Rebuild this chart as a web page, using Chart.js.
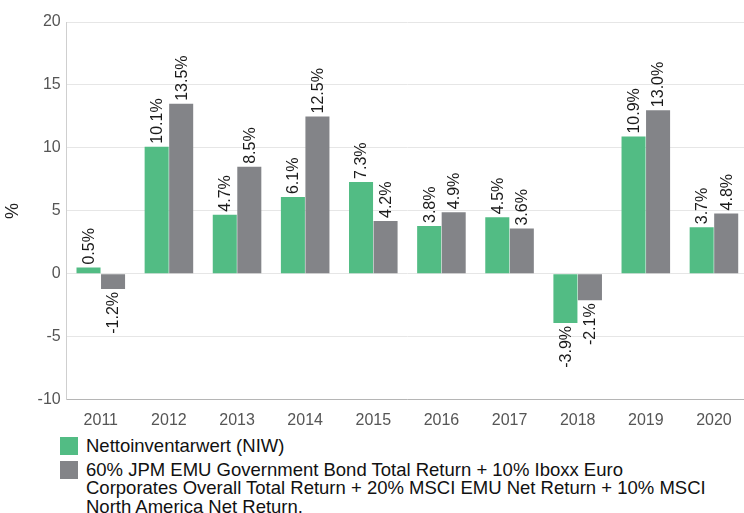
<!DOCTYPE html>
<html>
<head>
<meta charset="utf-8">
<script src="https://cdn.jsdelivr.net/npm/chart.js@4"></script>
<style>
  body { margin: 0; background: #fff; font-family: "Liberation Sans", Arial, sans-serif; overflow: hidden; }
  #wrap { position: relative; width: 748px; height: 433px; }
  #legend { position: absolute; left: 60px; top: 437px; width: 680px; }
  .item { display: flex; align-items: flex-start; margin-bottom: 5px; }
  .box { width: 18px; height: 18px; flex: none; margin-right: 8px; }
  .txt { font-size: 18.5px; line-height: 18.5px; color: #111; white-space: pre-line; }
</style>
</head>
<body>
<div id="wrap"><canvas id="chartNiw"></canvas></div>
<div id="legend"></div>
<script>
var years = ['2011', '2012', '2013', '2014', '2015', '2016', '2017', '2018', '2019', '2020'];
var niwValues = [0.5, 10.1, 4.7, 6.1, 7.3, 3.8, 4.5, -3.9, 10.9, 3.7];
var benchValues = [-1.2, 13.5, 8.5, 12.5, 4.2, 4.9, 3.6, -2.1, 13.0, 4.8];
var seriesNames = [
    'Nettoinventarwert (NIW)',
    '60% JPM EMU Government Bond Total Return + 10% Iboxx Euro\nCorporates Overall Total Return + 20% MSCI EMU Net Return + 10% MSCI\nNorth America Net Return.'
];
var myColors = ['#52bc84', '#838488'];

function fmt(value) {
    return value.toFixed(1) + '%';
}

// rotated value labels above / below each bar
var valueLabels = {
    id: 'valueLabels',
    afterDatasetsDraw: function (chart) {
        var ctx = chart.ctx;
        ctx.save();
        ctx.font = '16px "Liberation Sans", Arial, sans-serif';
        ctx.fillStyle = '#1a1a1a';
        ctx.textBaseline = 'middle';
        chart.data.datasets.forEach(function (ds, i) {
            var meta = chart.getDatasetMeta(i);
            meta.data.forEach(function (bar, j) {
                var v = ds.data[j];
                ctx.save();
                if (v >= 0) {
                    ctx.translate(bar.x, bar.y - 3);
                    ctx.rotate(-Math.PI / 2);
                    ctx.textAlign = 'left';
                } else {
                    ctx.translate(bar.x, bar.y + 3);
                    ctx.rotate(-Math.PI / 2);
                    ctx.textAlign = 'right';
                }
                ctx.fillText(fmt(v), 0, 1);
                ctx.restore();
            });
        });
        ctx.restore();
    }
};

var data = {
    labels: years,
    datasets: [{
        label: seriesNames[0],
        data: niwValues,
        backgroundColor: myColors[0]
    }, {
        label: seriesNames[1],
        data: benchValues,
        backgroundColor: myColors[1]
    }]
};

var canvas = document.getElementById('chartNiw');
var myNewChart = new Chart(canvas.getContext('2d'), {
    type: 'bar',
    data: data,
    plugins: [valueLabels],
    options: {
        responsive: true,
        maintainAspectRatio: false,
        animation: false,
        categoryPercentage: 0.72,
        barPercentage: 0.98,
        layout: { padding: { top: 22, right: 0, left: 2, bottom: 0 } },
        plugins: {
            legend: { display: false },
            tooltip: { enabled: false }
        },
        scales: {
            x: {
                grid: { display: false },
                border: { color: '#b5b5b5' },
                ticks: { color: '#555', font: { size: 16, family: '"Liberation Sans", Arial' }, padding: 3 }
            },
            y: {
                min: -10,
                max: 20,
                ticks: { stepSize: 5, color: '#555', font: { size: 16, family: '"Liberation Sans", Arial' }, padding: 6 },
                grid: { color: '#e6e6e6', drawTicks: false },
                border: { color: '#cfcfcf' },
                title: { display: true, text: '%', color: '#222', font: { size: 18, family: '"Liberation Sans", Arial' }, padding: { top: 0, bottom: 8 } }
            }
        }
    }
});

var legend = document.getElementById('legend');
seriesNames.forEach(function (name, i) {
    var item = document.createElement('div');
    item.className = 'item';
    var box = document.createElement('div');
    box.className = 'box';
    box.style.background = myColors[i];
    var txt = document.createElement('div');
    txt.className = 'txt';
    txt.textContent = name;
    item.appendChild(box);
    item.appendChild(txt);
    legend.appendChild(item);
});
</script>
</body>
</html>
